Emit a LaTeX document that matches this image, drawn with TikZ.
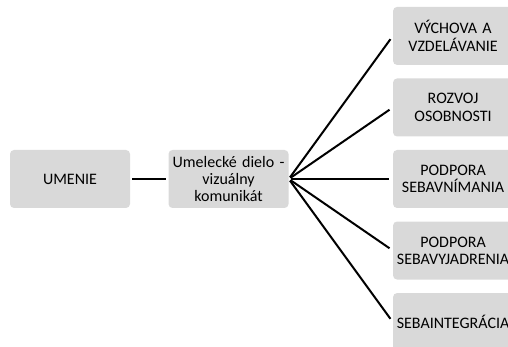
\documentclass[tikz,border=0pt]{standalone}
\usepackage{fontspec}
\setmainfont{Carlito}
\usepackage{tikz}
\usetikzlibrary{positioning}
\definecolor{boxgray}{RGB}{217,217,217}

\begin{document}
\begin{tikzpicture}[x=0.75pt, y=0.75pt,
  node distance=9.75pt and 28.5pt,
  box/.style={rectangle, rounded corners=3pt, fill=boxgray, draw=none,
    text width=86pt, inner xsep=2pt, minimum height=43.5pt, align=center,
    font=\fontsize{12}{13}\selectfont},
  link/.style={black, line width=1.5pt, shorten <=1.5pt, shorten >=1.5pt}]
\useasboundingbox (0,0) rectangle (508,347);
\node[box] (umenie) at (70,168) {UMENIE};
\node[box, right=of umenie] (dielo) {Umelecké dielo -\\vizuálny\\komunikát};
\node[box, right=78pt of dielo] (vnimanie) {PODPORA\\SEBAVNÍMANIA};
\node[box, above=of vnimanie] (osobnost) {ROZVOJ\\OSOBNOSTI};
\node[box, above=of osobnost] (vychova) {VÝCHOVA A\\VZDELÁVANIE};
\node[box, below=of vnimanie] (vyjadrenie) {PODPORA\\SEBAVYJADRENIA};
\node[box, below=of vyjadrenie] (integracia) {SEBAINTEGRÁCIA};
\draw[link] (umenie) -- (dielo);
\foreach \n in {vychova, osobnost, vnimanie, vyjadrenie, integracia}
  \draw[link, shorten >=3pt] (dielo.east) -- (\n.west);
\end{tikzpicture}
\end{document}
